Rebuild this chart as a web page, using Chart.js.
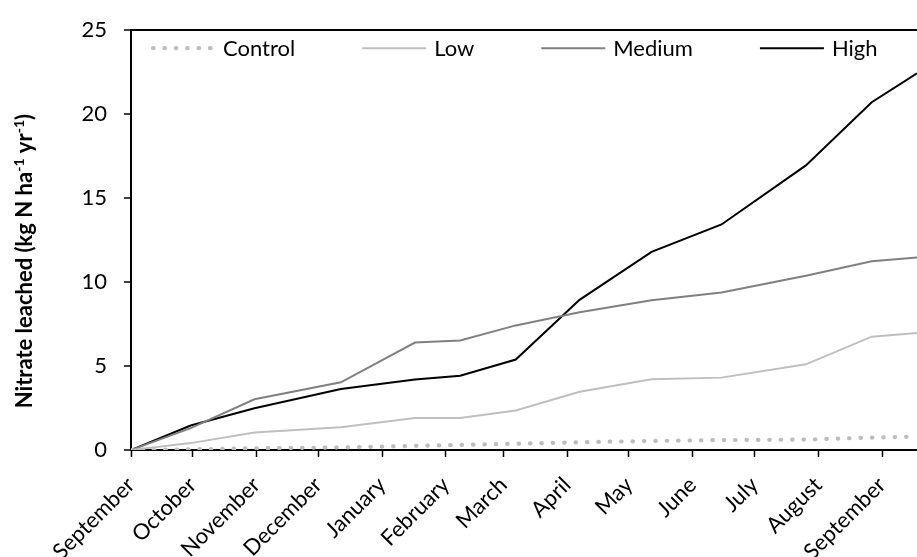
<!DOCTYPE html>
<html>
<head>
<meta charset="utf-8">
<script src="https://cdn.jsdelivr.net/npm/chart.js@4/dist/chart.umd.min.js"></script>
<style>
  html, body { margin: 0; padding: 0; background: #fff; }
  #wrap { width: 917px; height: 557px; }
</style>
</head>
<body>
<div id="wrap"><canvas id="c" width="917" height="557"></canvas></div>
<script>
// Sampling days, counted from 1 September of the first year
const sampleDay = [0, 29, 60, 102, 138, 160, 187, 218, 253, 287, 328, 360, 382];

// Cumulative nitrate leached (kg N ha-1 yr-1) per treatment
const control = [0, 0.04, 0.1, 0.15, 0.25, 0.3, 0.37, 0.46, 0.54, 0.59, 0.62, 0.74, 0.8];
const low     = [0, 0.41, 1.04, 1.35, 1.9, 1.9, 2.35, 3.47, 4.21, 4.31, 5.1, 6.75, 6.97];
const medium  = [0, 1.3, 3.02, 4.03, 6.4, 6.52, 7.42, 8.2, 8.92, 9.38, 10.38, 11.24, 11.47];
const high    = [0, 1.46, 2.49, 3.63, 4.2, 4.42, 5.39, 8.94, 11.8, 13.43, 16.95, 20.71, 22.43];

// Month ticks: label and the day (from 1 September) the month starts on
const monthLabels = ['September', 'October', 'November', 'December', 'January', 'February',
                     'March', 'April', 'May', 'June', 'July', 'August', 'September'];
const monthStartDay = [0, 30, 61, 91, 122, 153, 181, 212, 242, 273, 303, 334, 365];

const yMax = 25;
const yStep = 5;

const FONT = 'Lato, "Open Sans", "Liberation Sans", sans-serif';

const toPoints = (vals) => sampleDay.map((d, i) => ({ x: d, y: vals[i] }));

// Legend row inside the plot and the rotated y-axis title with superscripts
const decorations = {
  id: 'decorations',
  afterDraw(chart) {
    const { ctx, chartArea } = chart;
    ctx.save();

    // legend
    ctx.font = '22px ' + FONT;
    ctx.textBaseline = 'middle';
    ctx.fillStyle = '#000';
    const sample = 64;
    let x = chartArea.left + 20;
    const y = chartArea.top + 18;
    chart.data.datasets.forEach(ds => {
      ctx.save();
      ctx.strokeStyle = ds.borderColor;
      ctx.lineWidth = ds.borderWidth;
      ctx.lineCap = ds.borderCapStyle || 'butt';
      ctx.setLineDash(ds.borderDash || []);
      ctx.beginPath();
      ctx.moveTo(x + (ds.borderDash ? 2 : 0), y);
      ctx.lineTo(x + sample, y);
      ctx.stroke();
      ctx.restore();
      const tx = x + sample + 8;
      ctx.fillText(ds.label, tx, y + 1);
      x = tx + ctx.measureText(ds.label).width + 67;
    });

    // y-axis title
    const size = 22;
    const parts = [
      { t: 'Nitrate leached (kg N ha', sup: false },
      { t: '-1', sup: true },
      { t: ' yr', sup: false },
      { t: '-1', sup: true },
      { t: ')', sup: false }
    ];
    const fontFor = p => 'bold ' + (p.sup ? Math.round(size * 0.62) : size) + 'px ' + FONT;
    let total = 0;
    parts.forEach(p => { ctx.font = fontFor(p); p.w = ctx.measureText(p.t).width; total += p.w; });
    ctx.translate(24, (chartArea.top + chartArea.bottom) / 2 + 21);
    ctx.rotate(-Math.PI / 2);
    ctx.textBaseline = 'alphabetic';
    ctx.textAlign = 'left';
    let px = -total / 2;
    parts.forEach(p => {
      ctx.font = fontFor(p);
      ctx.fillText(p.t, px, p.sup ? 8 - size * 0.38 : 8);
      px += p.w;
    });
    ctx.restore();
  }
};

new Chart(document.getElementById('c'), {
  type: 'line',
  data: {
    datasets: [
      { label: 'Control', data: toPoints(control), borderColor: '#bdbdbd', borderWidth: 4.2,
        borderDash: [0.5, 10.9], borderCapStyle: 'round' },
      { label: 'Low', data: toPoints(low), borderColor: '#bfbfbf', borderWidth: 2 },
      { label: 'Medium', data: toPoints(medium), borderColor: '#808080', borderWidth: 2 },
      { label: 'High', data: toPoints(high), borderColor: '#000000', borderWidth: 2 }
    ]
  },
  options: {
    responsive: false,
    animation: false,
    layout: { padding: { top: 29, right: 0, left: 0, bottom: 0 } },
    elements: { point: { radius: 0, hoverRadius: 0 }, line: { tension: 0 } },
    plugins: { legend: { display: false }, tooltip: { enabled: false } },
    scales: {
      x: {
        type: 'linear',
        min: sampleDay[0],
        max: sampleDay[sampleDay.length - 1],
        afterBuildTicks: s => { s.ticks = monthStartDay.map(v => ({ value: v })); },
        afterFit: s => { s.height = 107; },
        ticks: {
          autoSkip: false,
          maxRotation: 45,
          minRotation: 45,
          padding: 15,
          color: '#000',
          font: { family: FONT, size: 22 },
          callback: (v, i) => monthLabels[i]
        },
        grid: { drawOnChartArea: false, drawTicks: true, tickLength: 7, tickColor: '#000', tickWidth: 1.5 },
        border: { color: '#000', width: 2 }
      },
      y: {
        min: 0,
        max: yMax,
        afterFit: s => { s.width = 131; },
        ticks: {
          stepSize: yStep,
          padding: 17,
          color: '#000',
          font: { family: FONT, size: 22 }
        },
        grid: {
          color: c => (c.tick && c.tick.value === yMax) ? '#000' : 'rgba(0,0,0,0)',
          lineWidth: 2,
          tickColor: '#000',
          tickWidth: 1.5,
          tickLength: 7
        },
        border: { color: '#000', width: 2 }
      }
    }
  },
  plugins: [decorations]
});
</script>
</body>
</html>
